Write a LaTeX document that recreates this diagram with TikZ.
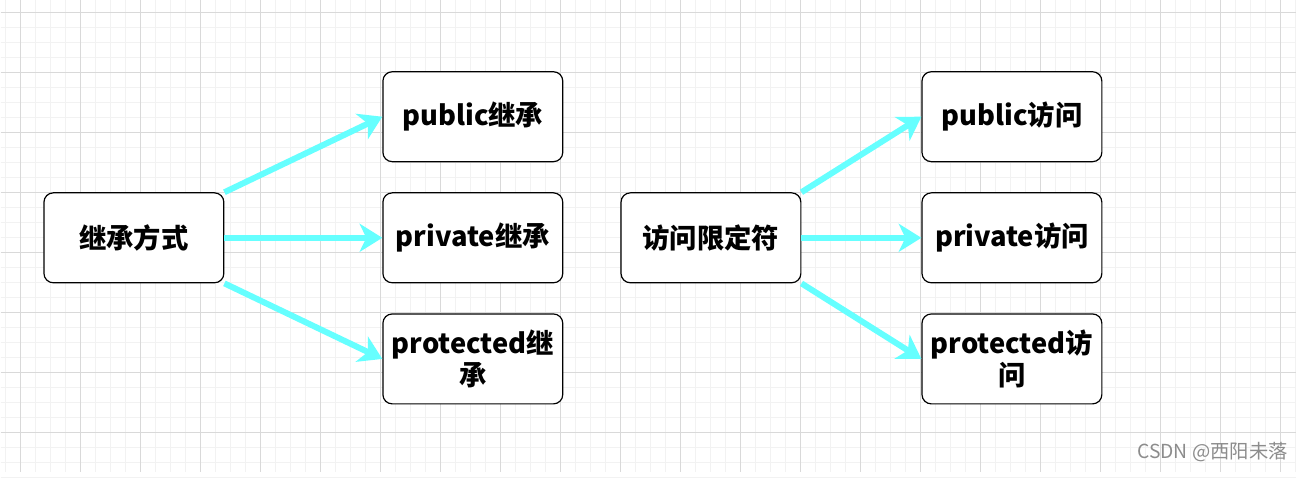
\documentclass[tikz,border=0pt]{standalone}
\usepackage{fontspec}
\setmainfont{Noto Sans CJK SC}
\usetikzlibrary{arrows.meta,positioning}
\definecolor{linkcyan}{HTML}{66FFFF}

\begin{document}
\begin{tikzpicture}[
  x=0.75pt, y=-0.75pt,
  font=\fontsize{20.5pt}{24pt}\selectfont\bfseries,
  box/.style={draw, rounded corners=7pt, align=center, line width=0.9pt,
              minimum width=135pt, minimum height=67.5pt, text width=128pt,
              inner sep=2pt, fill=white},
  link/.style={draw=linkcyan, line width=4.5pt,
               -{Stealth[length=17pt, width=21pt, inset=5pt]}},
  minorline/.style={black!5, line width=0.75pt},
  majorline/.style={black!15, line width=0.75pt}
]
% background grid
\fill[white] (0,0) rectangle (1296,472);
\foreach \gx in {0,...,86} \draw[minorline] (5.5+15*\gx,0) -- (5.5+15*\gx,472);
\foreach \gy in {0,...,31} \draw[minorline] (0,12.5+15*\gy) -- (1296,12.5+15*\gy);
\foreach \gx in {0,...,21} \draw[majorline] (20.5+60*\gx,0) -- (20.5+60*\gx,472);
\foreach \gy in {0,...,7} \draw[majorline] (0,12.5+60*\gy) -- (1296,12.5+60*\gy);
\useasboundingbox (0,0) rectangle (1296,472);

% inheritance
\node[box] (inh) at (133.5,237.5) {继承方式};
\node[box, right=118.5pt of inh] (privinh) {private继承};
\node[box, above=22.5pt of privinh] (pubinh) {public继承};
\node[box, below=22.5pt of privinh] (protinh) {protected继\\承};
\draw[link] (inh.north east) -- (pubinh.west);
\draw[link] (inh.east) -- (privinh.west);
\draw[link] (inh.south east) -- (protinh.west);

% access specifiers
\node[box] (acc) at (711,237.5) {访问限定符};
\node[box, right=90pt of acc] (privacc) {private访问};
\node[box, above=22.5pt of privacc] (pubacc) {public访问};
\node[box, below=22.5pt of privacc] (protacc) {protected访\\问};
\draw[link] (acc.north east) -- (pubacc.west);
\draw[link] (acc.east) -- (privacc.west);
\draw[link] (acc.south east) -- (protacc.west);

\node[anchor=east, text=black!45, font=\fontsize{14.5pt}{16pt}\selectfont]
  (mark) at (1293,452) {CSDN @西阳未落};
\end{tikzpicture}
\end{document}
